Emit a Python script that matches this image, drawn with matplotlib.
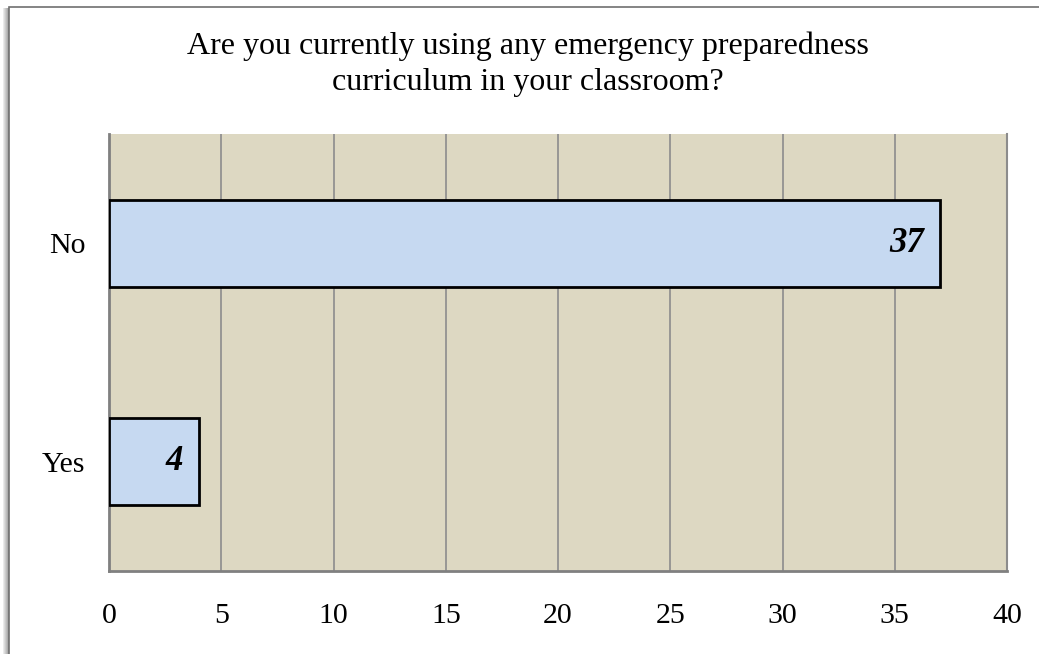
import matplotlib; matplotlib.use("Agg")
import matplotlib.pyplot as plt
from matplotlib.patches import Rectangle

categories = ["No", "Yes"]
counts = [37, 4]
x_ticks = [0, 5, 10, 15, 20, 25, 30, 35, 40]
title = "Are you currently using any emergency preparedness\ncurriculum in your classroom?"

plt.rcParams["font.family"] = ["Liberation Serif", "DejaVu Serif"]
fig = plt.figure(figsize=(10.39, 6.54), dpi=100)

# chart frame with a soft shadow on the left
W, H = 1039, 654
for i, a in enumerate([0.08, 0.14, 0.2, 0.26, 0.32, 0.38]):
    fig.patches.append(Rectangle(((3 + i) / W, 0), 1 / W, 1 - 8 / H, transform=fig.transFigure,
                                 color="black", alpha=a, lw=0, zorder=-2))
fig.patches.append(Rectangle((9 / W, -0.01), 1.0, 1 - 7 / H + 0.01, transform=fig.transFigure,
                             facecolor="white", edgecolor="#707070", lw=1.2, zorder=-1))

ax = fig.add_axes([109 / W, 1 - 571 / H, (1007 - 109) / W, (571 - 134) / H])
ax.set_facecolor("#DDD8C2")
y = [1, 0]
ax.barh(y, counts, height=0.4, color="#C6D9F1", edgecolor="black", lw=2, zorder=3)
for yy, c in zip(y, counts):
    ax.text(c - 0.7, yy, str(c), ha="right", va="center", fontsize=25,
            fontweight="bold", fontstyle="italic", zorder=4)
ax.set_xlim(0, 40)
ax.set_ylim(-0.5, 1.5)
ax.set_xticks(x_ticks)
ax.set_yticks(y)
ax.set_yticklabels(categories)
ax.tick_params(length=0, labelsize=21.5)
ax.tick_params(axis="y", pad=17)
ax.tick_params(axis="x", pad=23)
ax.grid(axis="x", color="#8C8C8C", lw=1.2, zorder=1)
ax.axvline(40, color="#8C8C8C", lw=1.5, clip_on=False, zorder=1)
for s in ["top", "right"]:
    ax.spines[s].set_visible(False)
for s in ["left", "bottom"]:
    ax.spines[s].set_color("#808080")
    ax.spines[s].set_linewidth(2)
fig.text(528 / W, 1 - 64 / H, title, ha="center", va="center", fontsize=23, linespacing=1.3)

fig.savefig("out.png", dpi=100)
